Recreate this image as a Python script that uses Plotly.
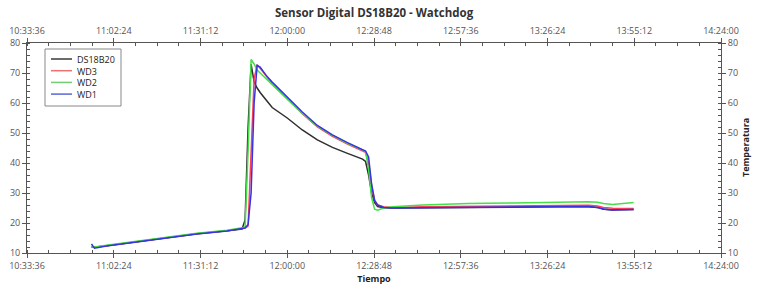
import plotly.graph_objects as go

DAY = "2024-01-01 "
times = ["10:55:00", "10:56:00", "11:00:00", "11:10:00", "11:20:00", "11:30:00", "11:40:00",
         "11:45:00", "11:46:00", "11:47:00", "11:48:00", "11:49:00", "11:50:00", "11:51:00",
         "11:53:00", "11:55:00", "12:00:00", "12:05:00", "12:10:00", "12:15:00", "12:20:00",
         "12:25:00", "12:26:00", "12:27:00", "12:28:00", "12:29:00", "12:30:00", "12:32:00",
         "12:35:00", "12:45:00", "13:00:00", "13:15:00", "13:30:00", "13:40:00", "13:43:00",
         "13:45:00", "13:48:00", "13:50:00", "13:55:00"]

ds18b20 = [12.0, 11.9, 12.4, 13.8, 15.2, 16.4, 17.4,
           18.0, 21.0, 52.0, 73.0, 67.0, 65.0, 63.5,
           61.0, 58.5, 55.0, 51.0, 47.7, 45.2, 43.2,
           41.3, 40.5, 36.0, 30.0, 26.8, 25.5, 25.1,
           25.0, 25.1, 25.2, 25.3, 25.4, 25.4, 25.2,
           24.6, 24.3, 24.4, 24.5]

wd3 = [12.0, 11.9, 12.4, 13.8, 15.2, 16.4, 17.4,
       18.1, 18.3, 19.0, 45.0, 68.0, 72.8, 71.5,
       68.8, 66.5, 61.5, 56.4, 52.0, 48.9, 46.3,
       44.2, 43.6, 40.0, 32.5, 27.5, 26.0, 25.4,
       25.2, 25.4, 25.6, 25.7, 25.9, 25.9, 25.7,
       25.2, 24.9, 24.8, 24.8]

wd2 = [12.1, 12.0, 12.6, 14.0, 15.4, 16.6, 17.6,
       18.3, 18.6, 44.0, 74.5, 73.0, 71.0, 70.0,
       68.0, 66.0, 61.3, 56.5, 52.3, 49.2, 46.6,
       44.4, 43.8, 38.0, 28.5, 24.6, 24.3, 25.0,
       25.4, 26.0, 26.5, 26.7, 27.0, 27.1, 26.9,
       26.5, 26.2, 26.3, 26.8]

wd1 = [13.0, 11.6, 12.3, 13.7, 15.1, 16.3, 17.3,
       18.0, 18.3, 19.5, 30.0, 60.0, 72.5, 72.0,
       69.2, 67.0, 62.0, 57.0, 52.5, 49.4, 46.8,
       44.6, 44.0, 42.0, 33.0, 27.5, 26.0, 25.2,
       25.0, 25.1, 25.2, 25.4, 25.5, 25.5, 25.2,
       24.7, 24.3, 24.4, 24.5]

series_names = ["DS18B20", "WD3", "WD2", "WD1"]
series_values = [ds18b20, wd3, wd2, wd1]
series_colors = ["#2e2e2e", "#ff3d62", "#45e045", "#3434e0"]
legend_colors = ["#3a3a3a", "#f07070", "#70d070", "#5a66d8"]

x_start = DAY + "10:33:36"
x_end = DAY + "14:24:00"
title_text = "Sensor Digital DS18B20 - Watchdog"
x_title = "Tiempo"
y_title = "Temperatura"

FONT = "Open Sans"
AX = "#555555"

W, H = 758, 285
ML, MR, MT, MB = 27, 37, 43, 32
PW, PH = W - ML - MR, H - MT - MB


def px(v):
    return (v - ML) / PW


def py(v):
    return (H - MB - v) / PH


x = [DAY + t for t in times]
fig = go.Figure()
for name, vals, col in zip(series_names, series_values, series_colors):
    fig.add_trace(go.Scatter(x=x, y=vals, mode="lines", name=name, showlegend=False,
                             line=dict(color=col, width=1.5)))
# dummy trace for mirrored axes
fig.add_trace(go.Scatter(x=[x_start], y=[10], xaxis="x2", yaxis="y2", mode="markers",
                         marker=dict(opacity=0), showlegend=False, hoverinfo="skip"))

common_x = dict(type="date", range=[x_start, x_end], tick0=x_start, dtick=1728000,
                tickformat="%H:%M:%S", showgrid=False, zeroline=False, automargin=False,
                showline=True, linecolor=AX, linewidth=1, ticks="outside", ticklen=4,
                tickcolor=AX, tickfont=dict(family=FONT, size=9, color="#555555"),
                minor=dict(dtick=432000, tick0=x_start, ticks="inside", ticklen=3,
                           tickcolor=AX, showgrid=False))
common_y = dict(range=[10, 80], dtick=10, showgrid=False, zeroline=False, automargin=False,
                showline=True, linecolor=AX, linewidth=1, ticks="outside", ticklen=4,
                tickcolor=AX, tickfont=dict(family=FONT, size=9, color="#555555"),
                minor=dict(dtick=2, ticks="inside", ticklen=3, tickcolor=AX, showgrid=False))

# manual compact legend (box + samples + labels)
LEG_Y0, LEG_DY = 59.0, 11.7
shapes = [dict(type="rect", xref="paper", yref="paper",
               x0=px(45), x1=px(121), y0=py(49), y1=py(106),
               line=dict(color="#888888", width=1), fillcolor="white", layer="above")]
for i, col in enumerate(legend_colors):
    yy = LEG_Y0 + LEG_DY * i
    shapes.append(dict(type="line", xref="paper", yref="paper",
                       x0=px(51), x1=px(72), y0=py(yy), y1=py(yy),
                       line=dict(color=col, width=1.5), layer="above"))
annotations = [
    dict(text="<b>" + y_title + "</b>", xref="paper", yref="paper",
         x=px(745), y=0.5, xanchor="center", yanchor="middle",
         textangle=-90, showarrow=False,
         font=dict(family=FONT, size=9, color="#222222")),
    dict(text="<br>".join(series_names), xref="paper", yref="paper",
         x=px(75), y=py(LEG_Y0 + 1.5 * LEG_DY), xanchor="left", yanchor="middle",
         align="left", showarrow=False,
         font=dict(family=FONT, size=9, color="#222222")),
]

fig.update_layout(
    width=W, height=H,
    margin=dict(l=ML, r=MR, t=MT, b=MB),
    paper_bgcolor="white", plot_bgcolor="white",
    title=dict(text="<b>" + title_text + "</b>", x=0.4935, xanchor="center",
               y=1 - 12.5 / H, yanchor="middle",
               font=dict(family=FONT, size=11.5, color="#333333")),
    xaxis=dict(**common_x, side="bottom",
               title=dict(text="<b>" + x_title + "</b>", standoff=2,
                          font=dict(family=FONT, size=9, color="#222222"))),
    xaxis2=dict(**common_x, side="top", overlaying="x", matches="x"),
    yaxis=dict(**common_y, side="left"),
    yaxis2=dict(**common_y, side="right", overlaying="y", matches="y"),
    shapes=shapes,
    annotations=annotations,
    showlegend=False,
)

fig.write_html("out.html", config={"displayModeBar": False},
               post_script="document.body.style.margin='0';")
